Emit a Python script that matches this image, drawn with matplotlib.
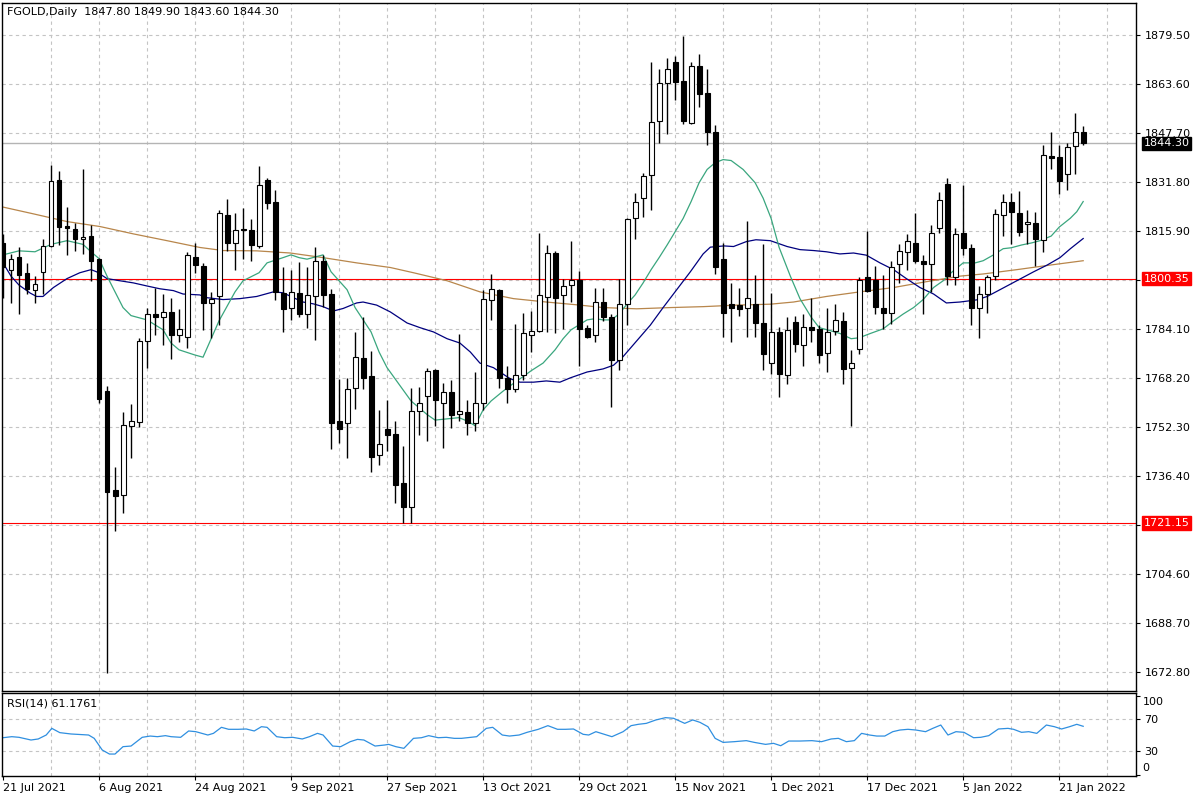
import numpy as np
import matplotlib.pyplot as plt
import matplotlib.transforms as mtransforms

# daily candles, bar 0 = 21 Jul 2021
opens = [1812.0, 1803.3, 1807.4, 1802.3, 1796.8, 1802.6, 1811.1, 1832.5, 1817.4, 1816.4,
         1813.2, 1814.2, 1806.7, 1763.9, 1731.8, 1730.2, 1752.7, 1754.0, 1780.2, 1789.0,
         1787.9, 1789.6, 1782.1, 1781.5, 1807.4, 1804.5, 1792.5, 1794.6, 1820.9, 1812.0,
         1816.5, 1816.2, 1810.9, 1832.5, 1825.4, 1795.8, 1791.0, 1795.8, 1788.9, 1794.6,
         1806.2, 1795.4, 1754.2, 1753.7, 1765.0, 1774.7, 1768.9, 1743.3, 1751.6, 1750.1,
         1734.2, 1726.3, 1757.4, 1762.4, 1770.8, 1760.2, 1763.6, 1756.5, 1757.1, 1753.7,
         1760.2, 1793.5, 1796.8, 1768.2, 1764.7, 1769.1, 1782.1, 1783.4, 1794.4, 1808.7,
         1795.0, 1798.3, 1800.1, 1784.5, 1782.1, 1792.9, 1787.9, 1774.0, 1792.1, 1820.0,
         1826.5, 1834.0, 1851.5, 1864.0, 1870.8, 1864.5, 1851.0, 1869.4, 1860.7, 1848.1,
         1806.6, 1792.2, 1791.9, 1791.0, 1792.2, 1786.0, 1773.0, 1783.1, 1769.1, 1786.4,
         1779.0, 1784.8, 1784.1, 1776.2, 1783.5, 1786.7, 1771.5, 1777.7, 1800.9, 1800.1,
         1791.0, 1789.3, 1805.2, 1809.1, 1812.0, 1806.2, 1805.2, 1816.8, 1831.1, 1800.9,
         1815.3, 1810.3, 1790.8, 1795.4, 1801.4, 1821.1, 1825.3, 1821.8, 1818.1, 1818.5,
         1813.0, 1840.2, 1839.8, 1834.4, 1843.4, 1847.8]
highs = [1815.0, 1808.4, 1810.5, 1805.5, 1801.2, 1813.4, 1837.3, 1835.4, 1823.6, 1818.5,
         1835.8, 1817.8, 1807.2, 1765.7, 1739.3, 1757.1, 1759.7, 1781.2, 1791.0, 1797.5,
         1795.4, 1794.2, 1790.6, 1809.1, 1812.0, 1805.5, 1796.1, 1822.8, 1826.2, 1821.8,
         1823.3, 1819.7, 1836.9, 1833.0, 1829.1, 1804.3, 1803.3, 1805.8, 1804.3, 1810.5,
         1808.1, 1797.1, 1767.9, 1768.2, 1783.1, 1788.1, 1777.0, 1757.8, 1761.0, 1754.2,
         1746.2, 1765.0, 1765.3, 1771.5, 1771.1, 1766.4, 1767.6, 1782.4, 1761.1, 1770.1,
         1796.8, 1801.9, 1797.1, 1772.2, 1785.7, 1789.3, 1790.0, 1815.3, 1811.3, 1809.5,
         1800.4, 1812.7, 1802.9, 1785.3, 1797.5, 1797.5, 1788.9, 1800.4, 1820.0, 1828.3,
         1834.7, 1870.5, 1868.4, 1872.0, 1872.7, 1879.2, 1870.5, 1873.1, 1868.4, 1850.3,
         1812.0, 1799.0, 1797.5, 1819.2, 1801.5, 1811.6, 1795.7, 1784.8, 1787.9, 1788.2,
         1788.9, 1794.0, 1785.3, 1790.7, 1792.1, 1789.6, 1777.3, 1800.9, 1815.9, 1804.5,
         1801.6, 1806.2, 1811.7, 1814.9, 1821.7, 1808.1, 1817.8, 1828.6, 1833.0, 1816.8,
         1830.8, 1811.6, 1798.0, 1801.6, 1823.1, 1827.9, 1828.3, 1828.9, 1822.8, 1822.1,
         1843.8, 1848.1, 1843.8, 1844.5, 1854.2, 1849.9]
lows = [1794.2, 1792.5, 1788.9, 1795.4, 1792.5, 1795.4, 1810.5, 1811.3, 1808.1, 1809.5,
        1808.4, 1799.7, 1760.0, 1672.5, 1718.5, 1724.5, 1742.3, 1752.3, 1771.5, 1782.1,
        1778.7, 1774.4, 1779.8, 1778.0, 1802.3, 1783.8, 1781.0, 1785.5, 1809.5, 1803.3,
        1806.6, 1806.2, 1810.3, 1823.1, 1793.6, 1783.1, 1787.0, 1787.9, 1784.5, 1780.6,
        1791.3, 1745.2, 1747.0, 1742.3, 1758.1, 1764.7, 1737.6, 1740.0, 1744.4, 1727.7,
        1721.2, 1721.2, 1749.8, 1747.7, 1752.7, 1745.5, 1752.0, 1754.2, 1749.8, 1750.9,
        1757.8, 1787.0, 1765.0, 1760.0, 1763.6, 1767.6, 1776.6, 1783.1, 1783.1, 1782.7,
        1784.1, 1792.8, 1772.2, 1781.2, 1779.8, 1786.7, 1758.8, 1770.8, 1785.5, 1813.4,
        1820.4, 1822.8, 1844.5, 1847.4, 1858.3, 1850.6, 1850.6, 1856.1, 1843.8, 1801.9,
        1781.4, 1779.9, 1788.4, 1781.6, 1781.6, 1770.8, 1769.4, 1762.1, 1766.2, 1776.6,
        1772.2, 1779.8, 1773.0, 1770.1, 1782.1, 1766.2, 1752.7, 1775.9, 1796.1, 1788.9,
        1784.2, 1785.7, 1799.0, 1803.3, 1805.5, 1788.9, 1796.1, 1815.3, 1798.3, 1798.3,
        1808.1, 1785.5, 1781.2, 1789.3, 1800.0, 1814.2, 1811.6, 1814.2, 1811.7, 1804.5,
        1809.1, 1835.9, 1827.9, 1829.1, 1834.4, 1843.6]
closes = [1804.0, 1806.9, 1801.6, 1797.1, 1798.8, 1811.1, 1832.1, 1817.1, 1816.8, 1813.2,
          1813.9, 1806.0, 1761.4, 1731.3, 1729.9, 1753.0, 1754.2, 1780.2, 1788.9, 1788.1,
          1789.6, 1782.1, 1784.1, 1808.0, 1804.8, 1792.5, 1793.9, 1821.7, 1812.0, 1816.2,
          1816.2, 1811.3, 1830.8, 1825.0, 1796.1, 1790.6, 1796.1, 1788.9, 1795.0, 1806.2,
          1795.1, 1753.7, 1751.6, 1764.7, 1775.1, 1768.2, 1742.6, 1746.9, 1749.8, 1733.5,
          1726.3, 1757.4, 1760.2, 1770.4, 1761.0, 1763.6, 1756.1, 1757.4, 1753.7, 1760.2,
          1793.9, 1797.1, 1768.3, 1764.6, 1769.1, 1782.9, 1783.5, 1795.0, 1808.7, 1794.2,
          1798.0, 1800.1, 1784.1, 1781.6, 1792.8, 1787.9, 1774.0, 1792.1, 1819.7, 1825.4,
          1833.7, 1851.3, 1864.0, 1868.4, 1864.3, 1851.5, 1869.4, 1860.2, 1848.1, 1804.3,
          1789.3, 1790.8, 1790.6, 1794.2, 1786.0, 1775.9, 1783.1, 1769.6, 1783.8, 1779.2,
          1784.8, 1783.8, 1775.7, 1783.1, 1787.0, 1771.1, 1773.0, 1800.0, 1796.5, 1791.3,
          1789.3, 1804.3, 1809.5, 1812.7, 1806.2, 1805.1, 1815.3, 1826.0, 1801.2, 1814.9,
          1810.3, 1790.8, 1795.4, 1800.9, 1821.4, 1825.4, 1822.1, 1815.6, 1818.9, 1813.2,
          1840.5, 1839.5, 1832.0, 1843.1, 1847.8, 1844.3]

# moving averages (bar index, price)
fast_x = [0, 2, 4, 6, 8, 10, 11, 12, 13, 14, 15, 16, 18, 20, 21, 22, 24, 25, 27, 29, 30, 32,
          33, 35, 36, 37, 38, 40, 41, 43, 44, 46, 47, 48, 50, 51, 53, 54, 55.5, 57, 58, 59,
          60, 61, 62.5, 64, 65, 66, 67.5, 69, 70, 71, 73, 74, 75, 76, 77, 78, 79, 80, 81, 82,
          83, 84, 85, 86, 87, 88, 89, 90, 91, 92.5, 94, 95, 96, 97, 98.4, 99.6, 101, 102,
          103.4, 104.6, 106, 107, 108.4, 110, 111.3, 112.5, 113.8, 115, 116.3, 117.5, 118.5,
          120, 121.5, 122.5, 123.8, 125, 126, 127.3, 128.6, 129.6, 131, 132, 133.4, 134.2, 135]
fast_ma = [1808.1, 1809.4, 1809.1, 1811.5, 1812.7, 1811.5, 1809.1, 1806.9, 1801.2, 1796.1,
           1791.0, 1788.4, 1787.0, 1783.8, 1779.5, 1777.3, 1775.6, 1774.9, 1786.7, 1796.1,
           1799.7, 1802.3, 1805.5, 1807.2, 1808.1, 1807.2, 1806.7, 1808.1, 1802.6, 1796.8,
           1791.0, 1783.1, 1776.6, 1771.5, 1764.3, 1760.7, 1756.3, 1754.5, 1754.9, 1755.3,
           1754.2, 1752.7, 1757.8, 1760.7, 1763.9, 1766.8, 1768.6, 1770.5, 1773.0, 1777.3,
           1780.9, 1783.8, 1787.0, 1787.4, 1787.0, 1787.0, 1788.9, 1792.2, 1795.1, 1799.0,
           1803.3, 1807.2, 1811.3, 1815.6, 1819.9, 1825.4, 1831.5, 1835.8, 1838.0, 1839.0,
           1838.7, 1835.8, 1831.5, 1826.5, 1819.9, 1810.5, 1801.2, 1793.9, 1787.9, 1784.5,
           1783.5, 1782.6, 1780.9, 1781.2, 1782.6, 1784.1, 1786.7, 1788.9, 1791.0, 1793.6,
           1797.5, 1799.7, 1802.3, 1805.5, 1805.5, 1806.2, 1808.1, 1810.1, 1810.4, 1811.3,
           1812.0, 1812.7, 1814.2, 1817.1, 1820.0, 1822.1, 1825.4]
mid_x = [0, 1, 2, 3.4, 4.2, 5, 6.3, 8, 9.6, 11, 11.7, 13, 14.6, 16.3, 18, 19.6, 21.3, 22.5,
         24.6, 25.5, 27.5, 29.6, 31.7, 33.8, 35, 36.3, 37.5, 38.8, 40, 41.3, 42.5, 44.2, 45,
         46.7, 48.4, 50.5, 52.1, 53.8, 55.5, 57.1, 58.4, 59.6, 61.3, 62.1, 63.4, 64.6, 66.3,
         67.9, 69.6, 70.9, 73, 75, 76.3, 77.5, 79.2, 80.9, 82.5, 84.2, 85.9, 87.5, 88.4, 90.1,
         91.3, 92.9, 94.1, 95.9, 98, 99.6, 101.3, 102.9, 104.6, 106.3, 107.9, 109.6, 111.3,
         112.9, 114.6, 116.3, 117.9, 119.6, 121.7, 123, 124.6, 126.7, 128.8, 130.5, 132.1,
         133.4, 135]
mid_ma = [1805.5, 1801.2, 1798.3, 1795.7, 1794.6, 1794.6, 1797.5, 1800.4, 1802.3, 1803.3,
          1802.6, 1800.4, 1799.7, 1799.0, 1798.0, 1797.1, 1796.5, 1795.4, 1795.1, 1794.2,
          1793.6, 1793.9, 1794.6, 1796.1, 1795.8, 1794.2, 1792.8, 1792.2, 1791.3, 1789.9,
          1790.7, 1792.5, 1792.8, 1791.8, 1789.6, 1786.0, 1784.5, 1783.1, 1780.9, 1779.5,
          1776.6, 1773.0, 1771.5, 1770.1, 1767.9, 1766.8, 1766.8, 1767.2, 1766.8, 1768.2,
          1770.1, 1771.1, 1772.3, 1775.1, 1780.2, 1785.3, 1791.0, 1796.8, 1802.6, 1808.4,
          1810.6, 1811.0, 1810.8, 1812.4, 1813.0, 1812.7, 1810.8, 1809.8, 1809.5, 1809.1,
          1808.4, 1808.7, 1808.0, 1805.5, 1803.3, 1800.4, 1797.5, 1795.4, 1792.5, 1792.8,
          1793.5, 1794.6, 1796.8, 1799.7, 1802.6, 1804.8, 1807.2, 1810.1, 1813.4]
slow_x = [0, 3.8, 8, 12.1, 16.3, 20.5, 24.6, 27.5, 31.7, 35.9, 40, 44.2, 48.4, 51.3, 55.5,
          59.6, 63.8, 67.9, 72.1, 75, 79.2, 83.4, 87.5, 91.7, 95.9, 98.8, 102.9, 107.1, 111.3,
          115.4, 119.6, 122.5, 126.7, 130.9, 135]
slow_ma = [1823.6, 1821.4, 1818.9, 1817.3, 1814.9, 1812.7, 1810.5, 1809.5, 1809.4, 1808.7,
           1807.2, 1805.5, 1804.0, 1802.3, 1799.7, 1796.1, 1793.9, 1792.8, 1791.8, 1791.0,
           1790.6, 1791.0, 1791.3, 1791.8, 1792.1, 1792.8, 1794.6, 1796.1, 1797.5, 1799.4,
           1801.2, 1801.9, 1803.3, 1804.8, 1806.2]

rsi_x = [0, 1.1, 2, 3.5, 4.4, 5.4, 6.1, 7.1, 8.5, 9.2, 10.7, 11.4, 12.4, 13.3, 14, 15, 16,
         17.4, 18.4, 19.3, 20.3, 21, 22.2, 23.2, 24.1, 25.6, 26.3, 27.3, 28.2, 29.4, 30.4,
         31.4, 32.3, 33, 34.2, 35.2, 36.2, 37.4, 38.3, 39.3, 40, 41.2, 42.2, 43.4, 44.3, 45.1,
         46.5, 47.7, 48.2, 49.1, 50.1, 51.3, 52.3, 53.2, 54.4, 55.4, 56.4, 57.3, 59.2, 60.4,
         61.2, 62.4, 63.3, 64.5, 65.5, 66.9, 68.1, 69.3, 70.3, 71.3, 72.5, 73.2, 74.1, 76.1,
         77.5, 78.5, 79.4, 80.4, 81.6, 82.8, 83.8, 85.2, 86.2, 87.1, 88.1, 89, 90, 91.4, 92.9,
         93.9, 95.3, 96.3, 97.2, 98.2, 99.6, 101.1, 102.3, 103.5, 104.4, 105.4, 106.4, 107.3,
         108.3, 109.2, 110.2, 111.2, 112.1, 113.1, 114.1, 115.3, 116.2, 117.2, 118.1, 119.1,
         120.1, 121.3, 122.2, 123.2, 124.4, 125.6, 126.3, 127.3, 128.2, 129.2, 130.4, 131.4,
         132.3, 133.3, 134.2, 135]
rsi = [46.8, 48.1, 47.3, 43.9, 45.2, 50.2, 58.6, 53.2, 51.5, 51.1, 50.2, 46.0, 31.3, 26.2,
       26.2, 35.5, 36.3, 47.3, 48.9, 48.1, 49.4, 48.1, 47.3, 55.3, 54.4, 50.2, 52.3, 59.9,
       57.4, 57.4, 57.8, 55.3, 60.7, 59.9, 48.1, 46.8, 47.3, 45.2, 48.1, 52.3, 50.2, 36.3,
       35.5, 41.8, 44.7, 43.9, 36.3, 37.6, 38.4, 35.5, 33.4, 46.0, 46.8, 49.4, 46.8, 47.3,
       46.0, 46.0, 48.1, 58.6, 59.9, 50.2, 48.9, 50.2, 53.6, 57.4, 62.0, 57.4, 57.4, 57.8,
       51.1, 50.2, 54.4, 48.1, 54.4, 62.0, 63.7, 64.9, 69.2, 72.1, 71.3, 64.9, 69.2, 66.2,
       60.7, 46.0, 40.9, 41.8, 43.1, 40.9, 38.4, 39.7, 36.7, 42.6, 42.6, 43.1, 41.8, 45.2,
       46.0, 41.8, 43.1, 52.3, 50.2, 48.9, 48.9, 54.4, 56.5, 57.4, 56.5, 54.4, 58.6, 62.8,
       50.2, 54.4, 53.6, 46.8, 47.3, 49.4, 57.8, 58.6, 57.4, 53.6, 54.4, 52.3, 62.8, 60.7,
       57.8, 60.7, 63.7, 61.2]

date_pos = [0, 12, 24, 36, 48, 60, 72, 84, 96, 108, 120, 132]
date_labels = ['21 Jul 2021', '6 Aug 2021', '24 Aug 2021', '9 Sep 2021', '27 Sep 2021',
               '13 Oct 2021', '29 Oct 2021', '15 Nov 2021', '1 Dec 2021', '17 Dec 2021',
               '5 Jan 2022', '21 Jan 2022']
price_ticks = [1879.50, 1863.60, 1847.70, 1831.80, 1815.90, 1800.00, 1784.10, 1768.20,
               1752.30, 1736.40, 1720.50, 1704.60, 1688.70, 1672.80]
levels = [1800.35, 1721.15]
last_price = 1844.30

plt.rcParams['font.family'] = 'DejaVu Sans'
W, H = 1200, 800
fig = plt.figure(figsize=(12, 8), dpi=100)
ax = fig.add_axes([2/W, 1-691/H, 1134/W, 688/H])
ax2 = fig.add_axes([2/W, 1-776/H, 1134/W, 83/H])

gridc = '#c4c4c4'
for a in (ax, ax2):
    for gx in range(6, 142, 6):
        a.axvline(gx, color=gridc, lw=0.8, ls=(0, (3, 3)), zorder=0)
    for s in a.spines.values():
        s.set_color('black')
        s.set_linewidth(1)

for p in price_ticks:
    ax.axhline(p, color=gridc, lw=0.8, ls=(0, (3, 3)), zorder=0)

x = np.arange(len(opens))
o = np.array(opens)
h = np.array(highs)
l = np.array(lows)
c = np.array(closes)
up = c >= o

ax.axhline(last_price, color='#b4b4b4', lw=1, zorder=1)
for lv in levels:
    ax.axhline(lv, color='#ff0000', lw=0.8, zorder=1)

ax.plot(slow_x, slow_ma, color='#b8864b', lw=0.9, zorder=2)
ax.plot(mid_x, mid_ma, color='#00007f', lw=0.9, zorder=2)
ax.plot(fast_x, fast_ma, color='#3aa67e', lw=0.9, zorder=2)

ax.vlines(x, l, h, color='black', lw=1, zorder=3)
bot = np.minimum(o, c)
hgt = np.maximum(np.abs(c - o), 0.2)
ax.bar(x[up], hgt[up], bottom=bot[up], width=0.62, color='white', edgecolor='black',
       lw=0.8, zorder=4)
ax.bar(x[~up], hgt[~up], bottom=bot[~up], width=0.62, color='black', edgecolor='black',
       lw=0.8, zorder=4)

ax.set_xlim(-0.125, 141.6)
ax.set_ylim(1666.62, 1889.80)
ax.set_xticks([])
ax.yaxis.tick_right()
ax.set_yticks(price_ticks)
ax.set_yticklabels(['' if p in (1800.00, 1720.50) else '%.2f' % p for p in price_ticks])
ax.tick_params(axis='y', length=3, width=0.8, pad=3, labelsize=8, direction='out')

trans = mtransforms.blended_transform_factory(ax.transAxes, ax.transData)
for lv in levels:
    ax.annotate('%.2f' % lv, xy=(1, lv), xycoords=trans, xytext=(5.5, 0),
                textcoords='offset points', ha='left', va='center', color='white',
                fontsize=8, bbox=dict(boxstyle='square,pad=0.15', fc='#ff0000', ec='#ff0000'),
                annotation_clip=False)
ax.annotate('%.2f' % last_price, xy=(1, last_price), xycoords=trans, xytext=(5.5, 0),
            textcoords='offset points', ha='left', va='center', color='white',
            fontsize=8, bbox=dict(boxstyle='square,pad=0.15', fc='black', ec='black'),
            annotation_clip=False)

fig.text(7/W, 1-12/H, 'FGOLD,Daily  1847.80 1849.90 1843.60 1844.30', fontsize=8,
         va='center', ha='left')

# RSI panel
ax2.axhline(70, color=gridc, lw=0.8, ls=(0, (3, 3)), zorder=0)
ax2.axhline(30, color=gridc, lw=0.8, ls=(0, (3, 3)), zorder=0)
ax2.plot(rsi_x, rsi, color='#2f8fe0', lw=0.9)
ax2.set_xlim(-0.125, 141.6)
ax2.set_ylim(-1.5, 103.2)
ax2.yaxis.tick_right()
ax2.set_yticks([100, 70, 30, 0])
ax2.set_yticklabels(['', '70', '30', ''])
ax2.tick_params(axis='y', length=3, width=0.8, pad=3, labelsize=8)
# MT4 pulls the 100 / 0 captions inward from the panel edges
trans2 = mtransforms.blended_transform_factory(ax2.transAxes, ax2.transData)
ax2.text(1, 92, '100', transform=trans2, fontsize=8, va='center', ha='left')
ax2.text(1, 8, '0', transform=trans2, fontsize=8, va='center', ha='left')
for t in ax2.texts[-2:]:
    t.set_x(1 + 6.5/1134)
ax2.set_xticks(date_pos)
ax2.set_xticklabels(date_labels, ha='left')
ax2.tick_params(axis='x', length=3, width=0.8, pad=2, labelsize=8)
ax2.text(5/1134, 1-11/83, 'RSI(14) 61.1761', transform=ax2.transAxes, fontsize=8,
         va='center', ha='left')

fig.savefig('out.png', dpi=100, facecolor='white')
